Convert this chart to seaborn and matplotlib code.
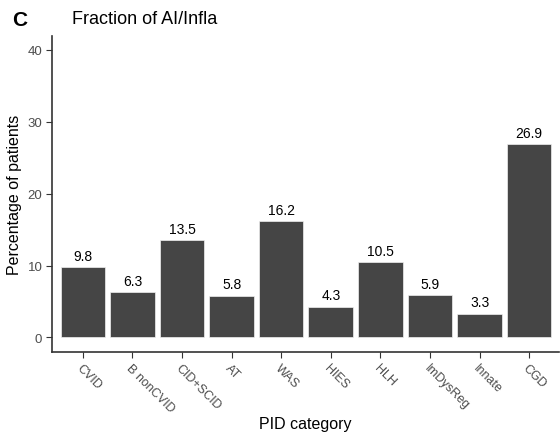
import matplotlib
matplotlib.use("Agg")
import matplotlib.pyplot as plt
import seaborn as sns
import pandas as pd

categories = ["CVID", "B nonCVID", "CID+SCID", "AT", "WAS", "HIES", "HLH",
              "ImDysReg", "Innate", "CGD"]
percentages = [9.8, 6.3, 13.5, 5.8, 16.2, 4.3, 10.5, 5.9, 3.3, 26.9]
y_ticks = [0, 10, 20, 30, 40]

df = pd.DataFrame({"category": categories, "pct": percentages})

sns.set_theme(style="white")
plt.rcParams["font.family"] = ["Liberation Sans", "DejaVu Sans"]

fig = plt.figure(figsize=(5.6, 4.35), dpi=100)
ax = fig.add_axes([0.093, 0.189, 0.905, 0.727])

sns.barplot(data=df, x="category", y="pct", color="#454545", saturation=1,
            width=0.9, ax=ax, edgecolor="#f0f0f0", linewidth=0.5)

for i, v in enumerate(percentages):
    ax.text(i, v + 0.6, f"{v:.1f}", ha="center", va="bottom", fontsize=10,
            color="black")

ax.set_xlim(-0.62, 9.6)
ax.set_ylim(-2, 42)
ax.set_yticks(y_ticks)
ax.set_yticklabels([str(t) for t in y_ticks], fontsize=9.5, color="#4d4d4d")
ax.set_xticks(range(len(categories)))
ax.set_xticklabels(categories, rotation=-45, ha="left", va="top",
                   rotation_mode="anchor", fontsize=9, color="#4d4d4d")
ax.tick_params(axis="both", which="both", length=4, width=0.8, color="#333333",
               bottom=True, left=True, pad=3)
ax.set_xlabel("PID category", fontsize=11.5, color="black", labelpad=1.5)
ax.set_ylabel("Percentage of patients", fontsize=11.5, color="black", labelpad=4)

for side in ["top", "right"]:
    ax.spines[side].set_visible(False)
for side in ["left", "bottom"]:
    ax.spines[side].set_color("#333333")
    ax.spines[side].set_linewidth(1.2)

fig.text(0.129, 0.955, "Fraction of AI/Infla", fontsize=13, ha="left",
         va="center", color="black")
fig.text(0.022, 0.953, "C", fontsize=15, fontweight="bold", ha="left",
         va="center", color="black")

fig.savefig("out.png", dpi=100)
